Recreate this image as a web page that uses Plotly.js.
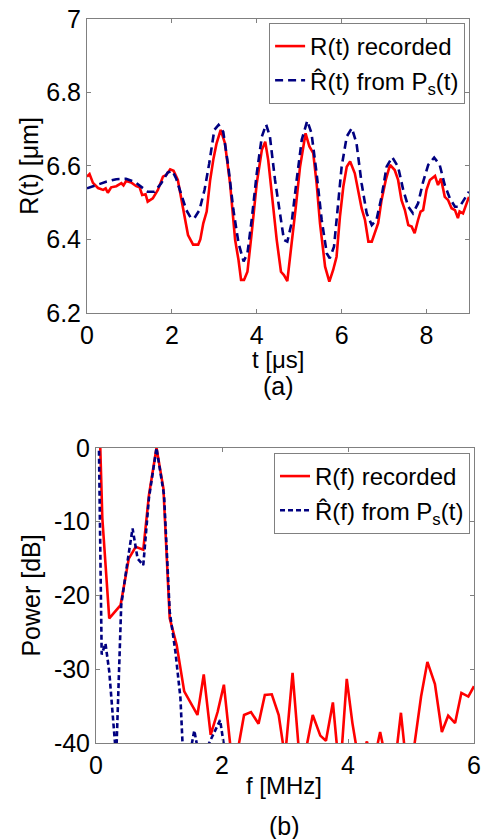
<!DOCTYPE html>
<html>
<head>
<meta charset="utf-8">
<script src="https://cdn.plot.ly/plotly-3.0.1.min.js"></script>
<style>html,body{margin:0;padding:0;background:#fff;}#chart{width:483px;height:839px;}</style>
</head>
<body>
<div id="chart"></div>
<script>
// ---- (a) time domain ----
var tRec = [0.00,0.06,0.14,0.26,0.38,0.44,0.49,0.57,0.69,0.81,0.86,0.92,1.04,1.16,1.24,1.30,1.38,1.43,1.55,1.67,1.79,1.87,1.96,2.04,2.14,2.26,2.38,2.50,2.62,2.67,2.74,2.82,2.90,2.98,3.05,3.15,3.25,3.37,3.49,3.57,3.63,3.70,3.78,3.88,4.00,4.12,4.20,4.27,4.39,4.47,4.57,4.64,4.72,4.82,4.92,5.02,5.15,5.24,5.33,5.41,5.49,5.61,5.71,5.80,5.88,5.96,6.04,6.12,6.20,6.31,6.39,6.47,6.55,6.63,6.71,6.78,6.86,6.94,7.04,7.14,7.25,7.33,7.41,7.49,7.57,7.65,7.72,7.80,7.86,7.92,8.00,8.08,8.20,8.27,8.34,8.43,8.51,8.59,8.67,8.74,8.78,8.86,8.94,9.00];
var rRec = [6.571,6.578,6.554,6.540,6.535,6.539,6.527,6.542,6.545,6.553,6.547,6.559,6.555,6.545,6.542,6.521,6.523,6.503,6.512,6.535,6.571,6.576,6.591,6.587,6.562,6.489,6.412,6.386,6.386,6.400,6.444,6.476,6.560,6.620,6.660,6.698,6.662,6.553,6.399,6.344,6.290,6.290,6.312,6.417,6.553,6.644,6.666,6.616,6.489,6.399,6.312,6.303,6.287,6.380,6.489,6.598,6.689,6.653,6.635,6.553,6.444,6.326,6.285,6.317,6.353,6.462,6.544,6.598,6.612,6.580,6.535,6.485,6.453,6.394,6.394,6.417,6.444,6.507,6.562,6.603,6.589,6.562,6.507,6.480,6.439,6.435,6.417,6.453,6.476,6.480,6.535,6.562,6.573,6.548,6.566,6.516,6.507,6.485,6.480,6.458,6.476,6.471,6.494,6.516];
var tEst = [0.00,0.22,0.45,0.69,0.92,1.12,1.28,1.43,1.59,1.75,1.90,2.01,2.10,2.22,2.34,2.45,2.53,2.65,2.77,2.88,3.00,3.10,3.21,3.33,3.45,3.57,3.69,3.78,3.88,4.00,4.12,4.22,4.31,4.43,4.55,4.64,4.72,4.82,4.94,5.06,5.19,5.29,5.41,5.53,5.65,5.72,5.82,5.92,6.00,6.12,6.24,6.35,6.47,6.59,6.71,6.82,6.94,7.06,7.19,7.33,7.45,7.57,7.68,7.80,7.92,8.04,8.18,8.31,8.43,8.55,8.67,8.78,8.90,9.00];
var rEst = [6.539,6.548,6.557,6.564,6.565,6.557,6.544,6.530,6.530,6.553,6.582,6.587,6.566,6.526,6.480,6.458,6.458,6.480,6.535,6.607,6.698,6.712,6.693,6.598,6.480,6.390,6.340,6.362,6.453,6.580,6.680,6.713,6.680,6.562,6.462,6.399,6.394,6.444,6.562,6.671,6.723,6.689,6.580,6.453,6.362,6.349,6.380,6.507,6.598,6.680,6.703,6.662,6.553,6.471,6.439,6.453,6.516,6.598,6.624,6.598,6.535,6.489,6.471,6.498,6.557,6.603,6.623,6.603,6.548,6.512,6.489,6.489,6.512,6.530];
var tTicks = [0,2,4,6,8];
var rTicks = [6.2,6.4,6.6,6.8,7];
var rTickText = ["6.2","6.4","6.6","6.8","7"];

// ---- (b) spectrum ----
var fRec = [0.00,0.10,0.21,0.39,0.52,0.63,0.75,0.84,0.96,1.07,1.17,1.28,1.40,1.61,1.71,1.82,1.93,2.03,2.14,2.25,2.35,2.46,2.58,2.68,2.79,2.90,3.00,3.12,3.22,3.33,3.44,3.56,3.65,3.76,3.87,3.98,4.07,4.18,4.30,4.40,4.51,4.62,4.73,4.84,4.95,5.05,5.16,5.26,5.38,5.49,5.59,5.70,5.80,5.91,6.00];
var pRec = [20,-9.5,-23.1,-21.3,-15.0,-13.4,-13.8,-6.4,0,-5.5,-23.1,-26.7,-33.0,-36.2,-30.7,-38.9,-35.8,-32.1,-41,-41,-36.2,-35.8,-37.4,-33.5,-33.4,-36.2,-42,-30.5,-41,-41,-36.2,-39.0,-39.7,-34.5,-44.6,-31.3,-37.3,-43,-39.8,-43,-38.5,-43,-44,-35.9,-45,-40.5,-33.7,-29.0,-32.0,-38.5,-36.3,-37.3,-33.2,-33.7,-32.3];
var fEst = [0.00,0.09,0.15,0.21,0.32,0.40,0.50,0.58,0.66,0.75,0.84,0.96,1.08,1.17,1.26,1.34,1.40,1.48,1.56,1.64,1.74,1.85,1.97,2.06,2.5,3.0,3.5,4.0,4.5,5.0,5.5,6.0];
var pEst = [30,-28,-26.5,-30.3,-42,-21.3,-15.4,-10.9,-15.0,-15.9,-6.8,0,-6.4,-22.2,-27.6,-33.9,-45,-42,-38.3,-42,-41,-39.1,-36.9,-42,-48,-50,-50,-50,-50,-50,-50,-50];
var fTicks = [0,2,4,6];
var pTicks = [-40,-30,-20,-10,0];
var pTickText = ["-40","-30","-20","-10","0"];

var FONT = "Liberation Sans, Arial, Helvetica, sans-serif";
var GREY = "#808080";
var RED = "#ff0000";
var NAVY = "#000080";

var traces = [
  {x: tRec, y: rRec, xaxis: "x", yaxis: "y", mode: "lines", name: "R(t) recorded",
   line: {color: RED, width: 2.6}, legend: "legend"},
  {x: tEst, y: rEst, xaxis: "x", yaxis: "y", mode: "lines", name: "R\u0302(t) from P<sub>s</sub>(t)",
   line: {color: NAVY, width: 2.6, dash: "8px,5px"}, legend: "legend"},
  {x: fRec, y: pRec, xaxis: "x2", yaxis: "y2", mode: "lines", name: "R(f) recorded",
   line: {color: RED, width: 2.6}, legend: "legend2"},
  {x: fEst, y: pEst, xaxis: "x2", yaxis: "y2", mode: "lines", name: "R\u0302(f) from P<sub>s</sub>(t)",
   line: {color: NAVY, width: 2.6, dash: "5px,3px"}, legend: "legend2"}
];

function ax(extra) {
  var base = {
    showline: true, linecolor: GREY, linewidth: 1, mirror: "ticks",
    ticks: "inside", ticklen: 4, tickcolor: GREY, tickwidth: 1,
    showgrid: false, zeroline: false, fixedrange: true,
    tickfont: {family: FONT, size: 25, color: "#000"}
  };
  for (var k in extra) base[k] = extra[k];
  return base;
}

var legendStyle = {
  font: {family: FONT, size: 24, color: "#000"},
  bgcolor: "#fff", bordercolor: GREY, borderwidth: 1,
  xanchor: "right", yanchor: "top", itemwidth: 30, tracegroupgap: 0
};
function leg(x, y) {
  var o = {}; for (var k in legendStyle) o[k] = legendStyle[k];
  o.x = x; o.y = y; return o;
}
function py(p) { return (743 - p) / 724; }
function xTitle(text, x, yPix, size) {
  return {text: text, xref: "paper", yref: "paper", x: x, y: py(yPix),
    xanchor: "center", yanchor: "middle", showarrow: false, font: {family: FONT, size: size, color: "#000"}};
}

var layout = {
  width: 483, height: 839,
  margin: {l: 87, r: 9, t: 19, b: 96},
  paper_bgcolor: "#fff", plot_bgcolor: "#fff",
  showlegend: true,
  font: {family: FONT, size: 25, color: "#000"},
  xaxis: ax({domain: [0, 0.987], anchor: "y", range: [0, 9], tickvals: tTicks, ticklabelstandoff: 0}),
  yaxis: ax({domain: [0.594, 1], anchor: "x", range: [6.2, 7], tickvals: rTicks, ticktext: rTickText,
    title: {text: "R(t) [\u03bcm]", font: {family: FONT, size: 25}, standoff: 0}}),
  xaxis2: ax({domain: [0.0233, 1], anchor: "y2", range: [0, 6], tickvals: fTicks}),
  yaxis2: ax({domain: [0, 0.4075], anchor: "x2", range: [-40, 0], tickvals: pTicks, ticktext: pTickText,
    title: {text: "Power [dB]", font: {family: FONT, size: 25}, standoff: 6}}),
  legend: leg(0.977, 0.9945),
  legend2: leg(0.9897, 0.4006),
  annotations: [
    xTitle("t [\u03bcs]", 0.494, 359, 24),
    xTitle("(a)", 0.494, 386, 25),
    xTitle("f [MHz]", 0.51, 785, 24),
    xTitle("(b)", 0.51, 826, 25)
  ]
};

Plotly.newPlot("chart", traces, layout, {staticPlot: true, displayModeBar: false});
</script>
</body>
</html>
